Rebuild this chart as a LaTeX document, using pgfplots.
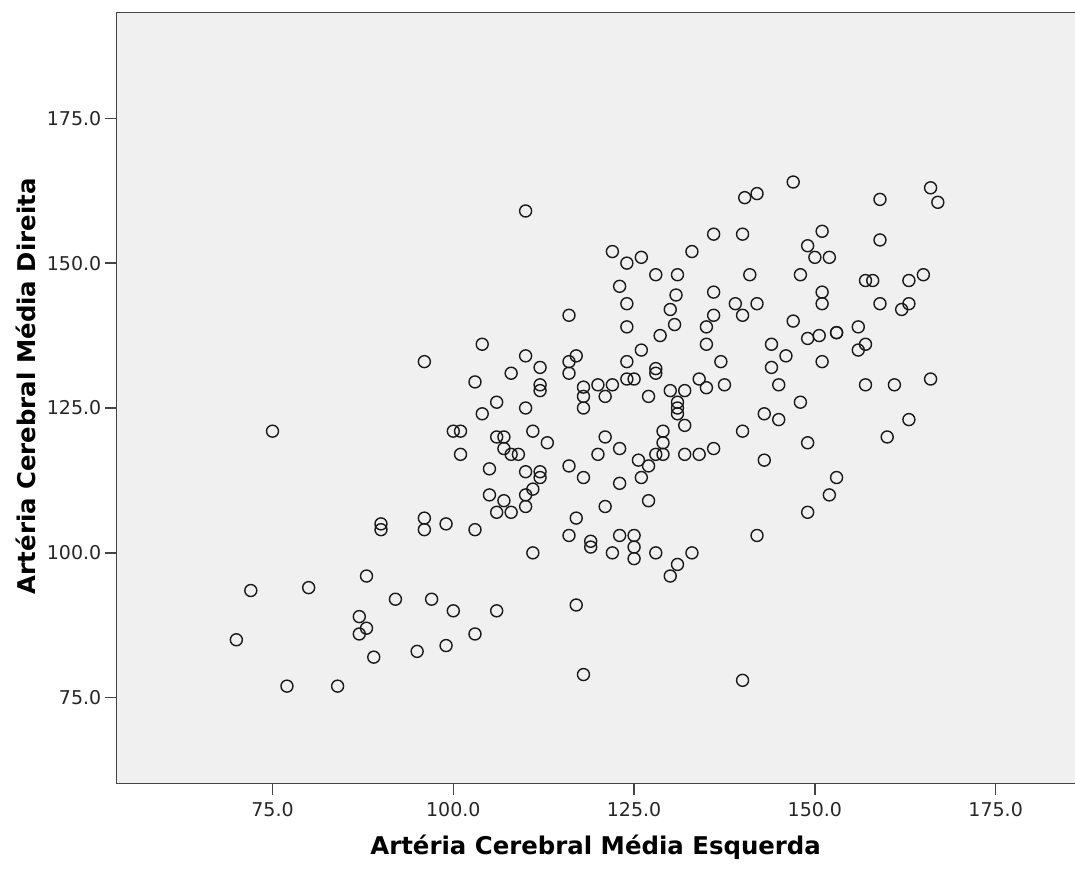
\documentclass[border=0pt]{standalone}
\usepackage{pgfplots}
\pgfplotsset{compat=1.18}
\usepackage{pgfplotstable}
\usepackage{fontspec}
\setmainfont{DejaVu Sans}

\definecolor{panel}{HTML}{F0F0F0}
\definecolor{frame}{HTML}{444444}

% Artéria Cerebral Média: esquerda (x) vs direita (y)
\pgfplotstableread{
x y
96 133
75 121
100 121
101 121
110 159
122 152
124 150
126 151
133 152
128 148
131 148
123 146
130.8 144.5
124 143
130 142
130.6 139.4
124 139
116 141
128.6 137.5
126 135
104 136
110 134
117 134
116 133
112 132
116 131
108 131
103 129.5
112 129
112 128
106 126
104 124
110 125
118 128.6
118 127
118 125
120 129
121 127
122 129
124 130
125 130
128 131.8
128 131
124 133
127 127
130 128
132 128
131 126
131 125
131 124
132 122
134 130
129 121
121 120
111 121
106 120
107 120
147 164
140.3 161.3
142 162
166 163
167 160.5
159 161
136 155
140 155
151 155.5
149 153
150 151
152 151
159 154
141 148
148 148
136 145
151 145
151 143
139 143
142 143
140 141
136 141
135 139
135 136
157 147
158 147
159 143
163 147
165 148
163 143
162 142
147 140
149 137
150.6 137.5
153 138
153 138
156 139
157 136
156 135
144 136
146 134
144 132
151 133
137 133
135 128.5
137.5 129
145 129
157 129
161 129
166 130
148 126
143 124
145 123
163 123
140 121
160 120
101 117
90 105
90 104
96 106
96 104
99 105
88 96
72 93.5
80 94
92 92
97 92
100 90
87 89
88 87
87 86
70 85
89 82
95 83
99 84
77 77
84 77
107 118
108 117
109 117
113 119
105 114.5
110 114
112 114
112 113
111 111
110 110
105 110
107 109
106 107
108 107
110 108
103 104
111 100
116 115
118 113
120 117
123 118
123 112
121 108
117 106
116 103
119 102
119 101
122 100
123 103
125 103
125 101
125 99
128 100
133 100
131 98
130 96
127 109
126 113
127 115
125.6 116
128 117
129 117
129 119
132 117
134 117
117 91
106 90
103 86
118 79
136 118
149 119
143 116
153 113
152 110
149 107
142 103
140 78
}\acm

\begin{document}
\begin{tikzpicture}
\begin{axis}[
  scale only axis,
  width=479.35pt, height=385.5pt,
  xmin=53.40, xmax=185.97,
  ymin=60.23, ymax=193.29,
  axis x line*=box, axis y line*=left,
  axis line style={frame, line width=0.7pt},
  axis background/.style={fill=panel},
  xtick={75,100,125,150,175},
  xticklabels={75.0,100.0,125.0,150.0,175.0},
  ytick={75,100,125,150,175},
  yticklabels={75.0,100.0,125.0,150.0,175.0},
  xtick pos=left, ytick pos=left,
  tick align=outside,
  major tick length=5.8pt,
  tick style={frame, line width=0.65pt},
  ticklabel style={font=\fontsize{9.5pt}{11pt}\selectfont, text=black!85},
  yticklabel style={inner sep=1.5pt},
  xlabel={Artéria Cerebral Média Esquerda},
  ylabel={Artéria Cerebral Média Direita},
  label style={font=\bfseries\fontsize{12.2pt}{14pt}\selectfont},
  xlabel style={at={(axis description cs:0.5,-0.0826)}, anchor=center},
  ylabel style={at={(axis description cs:-0.0942,0.515)}, anchor=center},
]
\addplot[only marks, mark=o, mark size=3pt,
  mark options={draw=black!90, line width=0.7pt}]
  table[x=x, y=y] {\acm};
\end{axis}
\pgfresetboundingbox
\path[use as bounding box]
  ([shift={(-58.15pt,-42.35pt)}]current axis.south west)
  rectangle ([shift={(0pt,6.15pt)}]current axis.north east);
\end{tikzpicture}
\end{document}
